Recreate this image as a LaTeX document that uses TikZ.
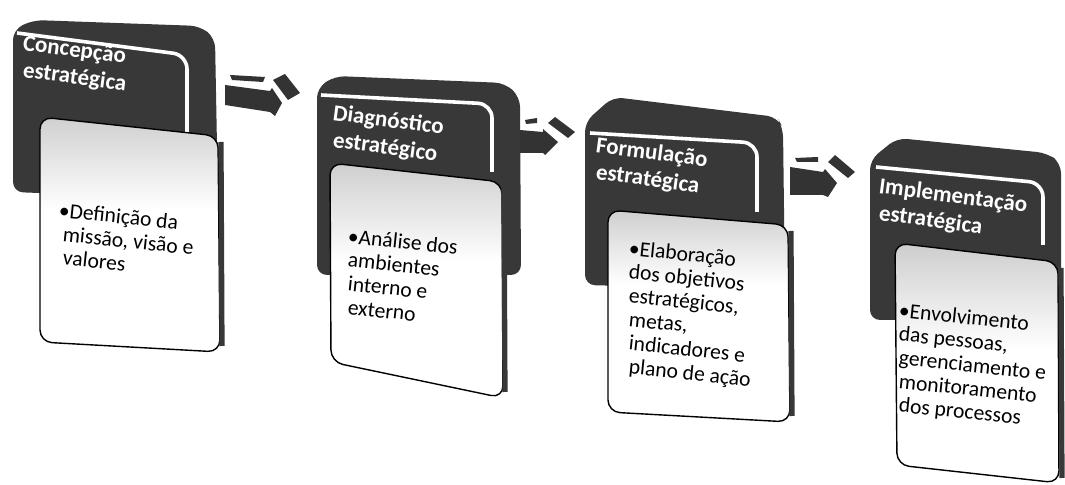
\documentclass[tikz,border=0pt]{standalone}
\usepackage{fontspec}
\setmainfont{Carlito}
\newcommand\bodyrow[2]{\hbox{\kern#1pt #2}}
\begin{document}
\begin{tikzpicture}[x=0.5pt,y=-0.5pt,
  darkfill/.style={fill=black!78, rounded corners=5pt},
  whiteline/.style={draw=white, line width=1.8pt, rounded corners=7pt},
  bodyline/.style={draw=black, line width=0.7pt, rounded corners=6pt},
  sideedge/.style={draw=black!78, line width=2.6pt},
  arrowfill/.style={fill=black!80},
  ttl/.style={anchor=base west, inner sep=0pt, text=white, rotate=-7.5, font=\fontsize{11.5}{13.5}\selectfont\bfseries},
  bdy/.style={anchor=base west, inner sep=0pt, text=black, rotate=-6, font=\fontsize{10.8}{11.8}\selectfont}]
\useasboundingbox (0,0) rectangle (1065,485);

% ---------- Block 1 ----------
\fill[darkfill] (33,20) -- (200,26) -- (215,38) -- (218,200) -- (13,192) -- (13,30) -- cycle;
\draw[whiteline] (17,33) -- (187,55) -- (187,137);
\begin{scope}
  \clip[rounded corners=6pt] (40,117) -- (218,136) -- (220,352) -- (40,342) -- cycle;
  \fill[white] (30,100) rectangle (240,360);
  \shade[top color=black!20, bottom color=white] (30,110) rectangle (240,210);
\end{scope}
\draw[bodyline] (40,117) -- (218,136) -- (220,352) -- (40,342) -- cycle;
\draw[sideedge] (221,142) -- (222,346);
\node[ttl] (t1) at (22,50) {\vtop{\bodyrow{0}{Concepção}\bodyrow{1.76}{estratégica}}};
\node[bdy] (b1) at (58,217) {\vtop{\bodyrow{0}{\textbullet Definição da}\bodyrow{3.2}{missão, visão e}\bodyrow{4.5}{valores}}};

% ---------- Block 2 ----------
\fill[darkfill] (335,76) -- (505,83) -- (520,97) -- (521,275) -- (317,275) -- (317,88) -- cycle;
\draw[whiteline] (321,95) -- (492,104) -- (492,172);
\begin{scope}
  \clip[rounded corners=6pt] (330,163) -- (502,182) -- (503,398) -- (331,362) -- cycle;
  \fill[white] (320,150) rectangle (520,410);
  \shade[top color=black!20, bottom color=white] (320,158) rectangle (520,262);
\end{scope}
\draw[bodyline] (330,163) -- (502,182) -- (503,398) -- (331,362) -- cycle;
\draw[sideedge] (504,188) -- (505,392);
\node[ttl] (t2) at (332,120) {\vtop{\bodyrow{0}{Diagnóstico}\bodyrow{1.76}{estratégico}}};
\node[bdy] (b2) at (347,243) {\vtop{\bodyrow{0}{\textbullet Análise dos}\bodyrow{1.23}{ambientes}\bodyrow{2.46}{interno e}\bodyrow{3.69}{externo}}};

% ---------- Block 3 ----------
\fill[darkfill] (613,97) -- (777,117) -- (783,128) -- (785,290) -- (585,285) -- (585,122) -- cycle;
\draw[whiteline] (590,133) -- (757,143) -- (757,212);
\begin{scope}
  \clip[rounded corners=6pt] (608,210) -- (788,225) -- (790,422) -- (608,412) -- cycle;
  \fill[white] (600,200) rectangle (800,430);
  \shade[top color=black!20, bottom color=white] (600,205) rectangle (800,285);
\end{scope}
\draw[bodyline] (608,210) -- (788,225) -- (790,422) -- (608,412) -- cycle;
\draw[sideedge] (791,231) -- (792,416);
\node[ttl] (t3) at (595,152) {\vtop{\bodyrow{0}{Formulação}\bodyrow{1.76}{estratégica}}};
\node[bdy] (b3) at (628,255) {\vtop{\bodyrow{0}{\textbullet Elaboração}\bodyrow{1.23}{dos objetivos}\bodyrow{2.46}{estratégicos,}\bodyrow{3.69}{metas,}\bodyrow{4.92}{indicadores e}\bodyrow{6.15}{plano de ação}}};

% ---------- Block 4 ----------
\fill[darkfill] (897,138) -- (1047,153) -- (1061,163) -- (1061,320) -- (870,320) -- (870,160) -- cycle;
\draw[whiteline] (876,167) -- (1043,183) -- (1043,245);
\begin{scope}
  \clip[rounded corners=6pt] (895,243) -- (1058,262) -- (1059,483) -- (897,465) -- cycle;
  \fill[white] (885,235) rectangle (1065,485);
  \shade[top color=black!20, bottom color=white] (885,240) rectangle (1065,350);
\end{scope}
\draw[bodyline] (895,243) -- (1058,262) -- (1059,483) -- (897,465) -- cycle;
\draw[sideedge] (1061,268) -- (1062,478);
\node[ttl] (t4) at (878,193) {\vtop{\bodyrow{0}{Implementação}\bodyrow{1.76}{estratégica}}};
\node[bdy] (b4) at (898,317) {\vtop{\bodyrow{0}{\textbullet Envolvimento}\bodyrow{1.23}{das pessoas,}\bodyrow{2.46}{gerenciamento e}\bodyrow{3.69}{monitoramento}\bodyrow{4.92}{dos processos}}};

% ---------- Arrows ----------
\fill[arrowfill] (225,85) -- (270,91) -- (272,88) -- (282,103) -- (275,116) -- (270,112) -- (225,105) -- cycle;
\fill[arrowfill] (230,75) -- (265,77) -- (263,82) -- (232,80) -- cycle;
\fill[arrowfill] (273,80) -- (285,74) -- (300,93) -- (288,100) -- cycle;

\fill[arrowfill] (520,130) -- (543,132) -- (543,129) -- (558,142) -- (545,155) -- (543,153) -- (520,153) -- cycle;
\fill[arrowfill] (525,120) -- (537,118) -- (537,123) -- (526,124) -- cycle;
\fill[arrowfill] (548,123) -- (555,117) -- (575,132) -- (568,138) -- cycle;

\fill[arrowfill] (790,167) -- (823,172) -- (825,169) -- (837,183) -- (828,197) -- (823,195) -- (790,195) -- cycle;
\fill[arrowfill] (795,158) -- (818,157) -- (818,162) -- (797,162) -- cycle;
\fill[arrowfill] (828,162) -- (835,155) -- (855,172) -- (848,178) -- cycle;
\end{tikzpicture}
\end{document}
